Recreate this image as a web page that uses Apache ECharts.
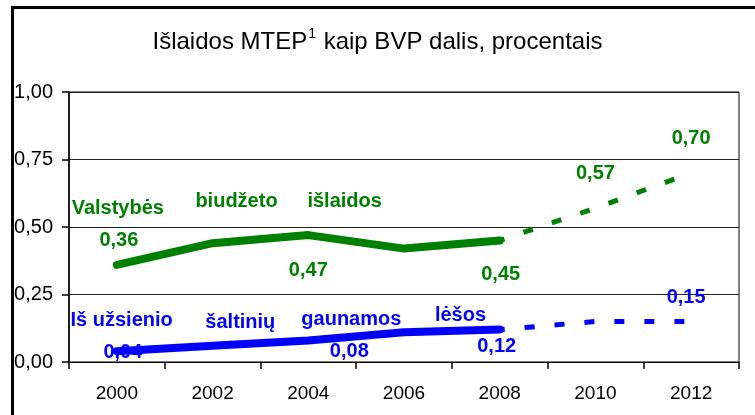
<!DOCTYPE html>
<html>
<head>
<meta charset="utf-8">
<script src="https://cdn.jsdelivr.net/npm/echarts@6/dist/echarts.min.js"></script>
<style>
html,body{margin:0;padding:0;background:#fff;}
#chart{width:755px;height:415px;}
</style>
</head>
<body>
<div id="chart"></div>
<script>
// ---- data ----
const years = ['2000', '2002', '2004', '2006', '2008', '2010', '2012'];
const budgetActual = [0.36, 0.44, 0.47, 0.42, 0.45, null, null];
const budgetPlan = [null, null, null, null, 0.45, 0.57, 0.70];
const foreignActual = [0.04, 0.06, 0.08, 0.11, 0.12, null, null];
const foreignPlan = [null, null, null, null, 0.12, 0.15, 0.15];
const yMin = 0, yMax = 1, yStep = 0.25;

// which points carry a value label
const budgetActualLabelled = [0, 2, 4];
const budgetPlanLabelled = [5, 6];
const foreignActualLabelled = [0, 2, 4];
const foreignPlanLabelled = [6];

// word annotations (text) and their anchors in category-index / value units
const greenWords = ['Valstybės', 'biudžeto', 'išlaidos'];
const greenWordAt = [[0.01, 0.57], [1.25, 0.593], [2.38, 0.593]];
const blueWords = ['Iš užsienio', 'šaltinių', 'gaunamos', 'lėšos'];
const blueWordAt = [[0.05, 0.152], [1.29, 0.148], [2.45, 0.156], [3.59, 0.174]];

// ---- styles / label placement (pixels) ----
const GREEN = '#008000', BLUE = '#0000ff';
const FONT = '"Liberation Sans", Arial, sans-serif';
const labelOffsets = {
  budgetActual: {0: [2, -24], 2: [0, 35], 4: [1, 34]},
  budgetPlan: {5: [0, -35], 6: [0, -35]},
  foreignActual: {0: [6, 1], 2: [41, 11], 4: [-3, 17]},
  foreignPlan: {6: [-5, -24]}
};

const fmt = v => v.toFixed(2).replace('.', ',');

function withLabels(values, labelled, offsets, color) {
  return values.map((v, i) => {
    if (v === null) return null;
    const show = labelled.indexOf(i) >= 0;
    return {
      value: v,
      label: show ? {
        show: true, position: 'inside', offset: offsets[i],
        formatter: fmt(v), color: color, fontFamily: FONT,
        fontWeight: 'bold', fontSize: 20
      } : {show: false}
    };
  });
}

function words(list, at) {
  return list.map((t, i) => ({name: t, value: at[i]}));
}

const chart = echarts.init(document.getElementById('chart'), null, {renderer: 'canvas'});
chart.setOption({
  animation: false,
  backgroundColor: '#fff',
  title: {
    text: 'Išlaidos MTEP{sup|1} kaip BVP dalis, procentais',
    left: 'center', top: 22,
    textStyle: {
      fontFamily: FONT, fontSize: 24, fontWeight: 'normal', color: '#000',
      lineHeight: 30,
      rich: {sup: {fontFamily: FONT, fontSize: 14, verticalAlign: 'top', lineHeight: 30, padding: [0, 1, 14, 1], color: '#000'}}
    }
  },
  graphic: [{
    type: 'rect', left: 10, top: 5, silent: true,
    shape: {width: 760, height: 430},
    style: {fill: 'none', stroke: '#000', lineWidth: 3}
  }],
  grid: {
    left: 69, right: 16, top: 92, bottom: 53,
    show: true, borderColor: '#000', borderWidth: 1, backgroundColor: '#fff'
  },
  xAxis: [{
    type: 'category', data: years, boundaryGap: true,
    axisLine: {onZero: false, lineStyle: {color: '#000', width: 1}},
    axisTick: {show: true, length: 7, lineStyle: {color: '#000', width: 1.5}},
    axisLabel: {color: '#000', fontFamily: FONT, fontSize: 19, margin: 22},
    splitLine: {show: false}
  }, {
    type: 'value', min: -0.5, max: 6.5, show: false,
    axisLine: {show: false, onZero: false}
  }],
  yAxis: {
    type: 'value', min: yMin, max: yMax, interval: yStep,
    axisLine: {show: true, onZero: false, lineStyle: {color: '#000', width: 1.5}},
    axisTick: {show: true, length: 7, lineStyle: {color: '#000', width: 1.5}},
    axisLabel: {color: '#000', fontFamily: FONT, fontSize: 20, margin: 16, formatter: fmt},
    splitLine: {show: true, lineStyle: {color: '#222', width: 1}}
  },
  series: [
    {
      type: 'line', data: withLabels(budgetPlan, budgetPlanLabelled, labelOffsets.budgetPlan, GREEN),
      symbol: 'circle', symbolSize: 0.1, itemStyle: {color: GREEN},
      lineStyle: {color: GREEN, width: 5, type: [10, 20], dashOffset: 5, cap: 'butt'}
    },
    {
      type: 'line', data: withLabels(foreignPlan, foreignPlanLabelled, labelOffsets.foreignPlan, BLUE),
      symbol: 'circle', symbolSize: 0.1, itemStyle: {color: BLUE},
      lineStyle: {color: BLUE, width: 5, type: [10, 20], dashOffset: 5, cap: 'butt'}
    },
    {
      type: 'line', data: withLabels(budgetActual, budgetActualLabelled, labelOffsets.budgetActual, GREEN),
      symbol: 'circle', symbolSize: 0.1, itemStyle: {color: GREEN},
      lineStyle: {color: GREEN, width: 8, cap: 'round', join: 'round'}
    },
    {
      type: 'line', data: withLabels(foreignActual, foreignActualLabelled, labelOffsets.foreignActual, BLUE),
      symbol: 'circle', symbolSize: 0.1, itemStyle: {color: BLUE},
      lineStyle: {color: BLUE, width: 8, cap: 'round', join: 'round'}
    },
    {
      type: 'scatter', xAxisIndex: 1, yAxisIndex: 0, symbolSize: 0,
      itemStyle: {opacity: 1, color: GREEN},
      data: words(greenWords, greenWordAt),
      label: {show: true, position: 'inside', formatter: '{b}', color: GREEN, opacity: 1, fontFamily: FONT, fontWeight: 'bold', fontSize: 20}
    },
    {
      type: 'scatter', xAxisIndex: 1, yAxisIndex: 0, symbolSize: 0,
      itemStyle: {opacity: 1, color: BLUE},
      data: words(blueWords, blueWordAt),
      label: {show: true, position: 'inside', formatter: '{b}', color: BLUE, opacity: 1, fontFamily: FONT, fontWeight: 'bold', fontSize: 20}
    }
  ]
});
</script>
</body>
</html>
